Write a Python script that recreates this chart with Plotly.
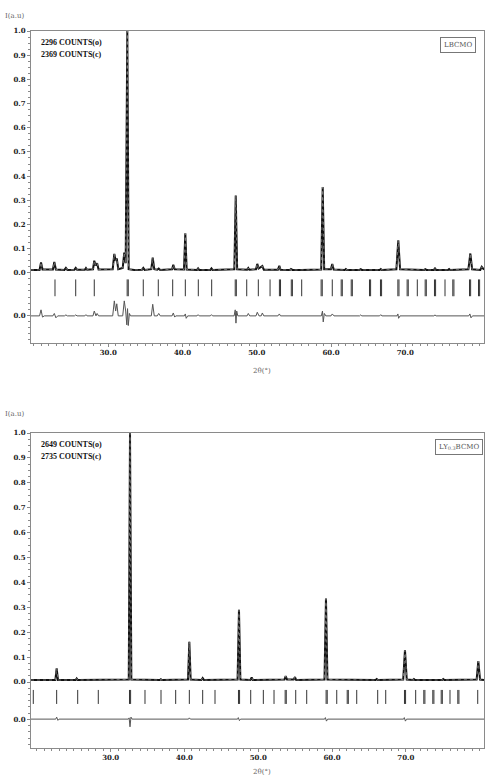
import plotly.graph_objects as go

# ---------------- data ----------------
# Top panel: LBCMO  (2theta in degrees, normalised intensity)
lb_two_theta = [19.6, 20.75, 20.95, 21.15, 22.55, 22.74, 22.95, 24.1, 24.3, 24.5, 25.45, 25.62, 25.8,
                26.85, 27.0, 27.15, 27.95, 28.12, 28.3, 28.5, 28.7, 30.6, 30.82, 31.0, 31.15, 31.35,
                31.95, 32.16, 32.35, 32.57, 32.75, 33.5, 34.55, 34.72, 34.9, 35.8, 35.99, 36.2,
                36.6, 36.8, 37.0, 38.6, 38.76, 38.95, 40.2, 40.38, 40.56, 41.95, 42.1, 42.25, 43.75,
                43.9, 44.05, 46.98, 47.17, 47.36, 48.7, 48.86, 49.0, 49.9, 50.07, 50.25, 50.75, 50.95,
                52.85, 53.04, 53.2, 54.45, 54.61, 54.8, 56.0, 58.68, 58.88, 59.08, 59.98, 60.17,
                60.36, 61.85, 62.0, 62.15, 63.85, 64.0, 64.15, 66.55, 66.7, 66.85, 68.8, 69.06, 69.3,
                72.55, 72.7, 72.85, 73.85, 74.0, 74.15, 75.75, 75.9, 76.05, 78.5, 78.76, 79.0,
                80.1, 80.29, 80.6]
lb_intensity = [0.012, 0.012, 0.043, 0.014, 0.014, 0.045, 0.014, 0.012, 0.02, 0.012, 0.013, 0.02, 0.013,
                0.013, 0.02, 0.013, 0.015, 0.05, 0.03, 0.04, 0.014, 0.015, 0.078, 0.05, 0.06, 0.015,
                0.02, 0.084, 0.04, 1.0, 0.015, 0.012, 0.013, 0.02, 0.012, 0.015, 0.063, 0.015,
                0.013, 0.018, 0.012, 0.015, 0.033, 0.015, 0.014, 0.164, 0.014, 0.012, 0.018, 0.012, 0.012,
                0.018, 0.012, 0.015, 0.32, 0.015, 0.013, 0.02, 0.013, 0.015, 0.037, 0.018, 0.028, 0.013,
                0.013, 0.029, 0.013, 0.012, 0.016, 0.012, 0.012, 0.014, 0.355, 0.015, 0.015, 0.037,
                0.014, 0.012, 0.016, 0.012, 0.012, 0.015, 0.012, 0.012, 0.016, 0.012, 0.015, 0.134, 0.015,
                0.012, 0.015, 0.012, 0.012, 0.018, 0.012, 0.012, 0.016, 0.012, 0.015, 0.08, 0.015,
                0.012, 0.025, 0.013]
lb_diff_theta = [19.6, 20.75, 20.95, 21.15, 21.4, 22.55, 22.74, 22.95, 23.2, 24.1, 24.3, 24.5, 25.45,
                 25.62, 25.8, 26.85, 27.0, 27.15, 27.95, 28.12, 28.35, 28.5, 28.7, 30.6, 30.82, 31.0,
                 31.15, 31.35, 31.95, 32.16, 32.35, 32.5, 32.6, 32.7, 32.85, 33.0, 35.8, 35.99, 36.2,
                 36.6, 36.8, 37.0, 38.6, 38.76, 38.95, 39.1, 40.25, 40.38, 40.5, 40.7, 41.95, 42.1,
                 42.25, 43.75, 43.9, 44.05, 46.95, 47.1, 47.2, 47.3, 47.45, 48.7, 48.86, 49.05, 49.9,
                 50.07, 50.3, 50.6, 50.75, 50.95, 52.85, 53.04, 53.2, 58.7, 58.85, 58.95, 59.1, 59.3,
                 60.0, 60.17, 60.4, 63.85, 64.0, 64.15, 66.55, 66.7, 66.85, 68.9, 69.0, 69.1, 69.3,
                 73.85, 74.0, 74.15, 78.55, 78.7, 78.85, 79.05, 80.6]
lb_diff = [0, 0, 0.025, -0.005, 0, 0, 0.01, -0.008, 0, 0, 0.004, 0, 0,
           0.004, 0, 0, 0.005, 0, 0, 0.02, 0, 0.01, 0, 0, 0.062, 0.02,
           0.05, 0, 0, 0.062, 0.02, -0.037, 0.03, -0.04, 0.01, 0, 0, 0.048, 0,
           0, 0.01, 0, 0, 0.012, -0.005, 0, 0, 0.008, -0.01, 0, 0, 0.005,
           0, 0, 0.005, 0, 0, 0.025, -0.03, 0.02, 0, 0, 0.01, 0, 0,
           0.015, 0, 0, 0.012, 0, 0, 0.008, 0, 0, 0.02, -0.025, 0.01, 0,
           0, 0.008, 0, 0, 0.004, 0, 0, 0.005, 0, 0, 0.008, -0.01, 0,
           0, 0.004, 0, 0, 0.008, -0.008, 0, 0]
lb_bragg = [22.83, 25.62, 28.12, 32.55, 32.7, 34.72, 36.74, 38.68, 40.38, 42.13, 43.93, 47.1, 47.25,
            48.65, 50.21, 51.79, 53.05, 53.2, 54.65, 54.8, 56.05, 58.67, 58.82, 60.17, 61.37, 61.52,
            62.72, 62.87, 65.18, 65.33, 66.66, 66.81, 69.0, 69.15, 70.25, 70.4, 71.62, 72.68, 72.83,
            73.93, 74.08, 75.35, 76.4, 76.55, 78.65, 78.8, 79.86, 80.01]

# Bottom panel: LY0.3BCMO
ly_two_theta = [19.2, 22.5, 22.68, 22.86, 25.25, 25.39, 25.55, 28.15, 28.32, 28.5, 32.45, 32.62, 32.8,
                36.65, 36.8, 36.95, 40.48, 40.66, 40.84, 42.3, 42.47, 42.65, 47.2, 47.39, 47.58,
                48.95, 49.11, 49.28, 53.55, 53.72, 53.9, 54.8, 54.98, 55.15, 58.98, 59.18, 59.38,
                65.9, 66.06, 66.22, 69.65, 69.89, 70.13, 70.95, 71.1, 71.25, 74.92, 75.08, 75.24,
                79.6, 79.83, 80.06, 80.6]
ly_intensity = [0.008, 0.008, 0.055, 0.008, 0.008, 0.014, 0.008, 0.008, 0.011, 0.008, 0.01, 1.0, 0.01,
                0.008, 0.011, 0.008, 0.01, 0.162, 0.01, 0.008, 0.016, 0.008, 0.01, 0.29, 0.01,
                0.008, 0.018, 0.008, 0.01, 0.024, 0.01, 0.01, 0.02, 0.008, 0.01, 0.335, 0.01,
                0.008, 0.012, 0.008, 0.01, 0.128, 0.01, 0.008, 0.012, 0.008, 0.008, 0.012, 0.008,
                0.01, 0.084, 0.01, 0.008]
ly_diff_theta = [19.2, 22.55, 22.68, 22.85, 23.0, 32.4, 32.5, 32.62, 32.75, 32.9, 40.55, 40.66, 40.8,
                 47.2, 47.3, 47.45, 47.6, 59.0, 59.1, 59.25, 59.4, 69.7, 69.8, 69.95, 70.1, 80.6]
ly_diff = [0, 0, 0.008, -0.005, 0, 0, 0.005, -0.031, 0.008, 0, 0, 0.005, 0,
           0, 0.006, -0.006, 0, 0, 0.006, -0.008, 0, 0, 0.006, -0.008, 0, 0]
ly_bragg = [19.51, 22.68, 25.53, 28.32, 32.55, 32.7, 34.65, 36.82, 38.81, 40.66, 42.47, 44.14,
            47.32, 47.47, 48.98, 50.69, 52.14, 53.65, 53.8, 55.08, 56.57, 59.2, 59.35, 60.64,
            62.06, 62.21, 63.35, 66.19, 67.28, 69.82, 69.97, 71.34, 72.44, 72.59, 73.66, 73.81,
            74.8, 74.95, 75.99, 77.05, 77.2, 79.75]

y_tick_values = [0.0, 0.1, 0.2, 0.3, 0.4, 0.5, 0.6, 0.7, 0.8, 0.9, 1.0]
y_tick_labels = ["0.0", "0.1", "0.2", "0.3", "0.4", "0.5", "0.6", "0.7", "0.8", "0.9", "1.0"]
x_tick_values = [30, 40, 50, 60, 70]
x_tick_labels = ["30.0", "40.0", "50.0", "60.0", "70.0"]

counts_top = ["2296 COUNTS(o)", "2369 COUNTS(c)"]
counts_bot = ["2649 COUNTS(o)", "2735 COUNTS(c)"]

# ---------------- placement constants ----------------
TOP_DIFF_BASE = -0.178
TOP_BRAGG_Y = -0.062
BOT_DIFF_BASE = -0.149
BOT_BRAGG_Y = -0.060

fig = go.Figure()

def add_panel(xa, ya, tt, inten, dtt, dval, base, bragg, bragg_y, tick_size):
    fig.add_trace(go.Scatter(x=tt, y=inten, mode="lines", xaxis=xa, yaxis=ya,
                             line=dict(color="#111", width=2), hoverinfo="skip"))
    fig.add_trace(go.Scatter(x=tt, y=inten, mode="lines", xaxis=xa, yaxis=ya,
                             line=dict(color="#888", width=0.8, dash="dot"), hoverinfo="skip"))
    fig.add_trace(go.Scatter(x=dtt, y=[v + base for v in dval], mode="lines", xaxis=xa, yaxis=ya,
                             line=dict(color="#555", width=1), hoverinfo="skip"))
    fig.add_trace(go.Scatter(x=bragg, y=[bragg_y] * len(bragg), mode="markers", xaxis=xa, yaxis=ya,
                             marker=dict(symbol="line-ns", size=tick_size,
                                         line=dict(color="#333", width=1)), hoverinfo="skip"))

add_panel("x", "y", lb_two_theta, lb_intensity, lb_diff_theta, lb_diff, TOP_DIFF_BASE,
          lb_bragg, TOP_BRAGG_Y, 12)
add_panel("x2", "y2", ly_two_theta, ly_intensity, ly_diff_theta, ly_diff, BOT_DIFF_BASE,
          ly_bragg, BOT_BRAGG_Y, 10)

tick_font = dict(family="DejaVu Serif", size=7, color="#222", weight="bold")
axis_common = dict(showline=True, mirror=True, linecolor="#8a8a8a", linewidth=1,
                   showgrid=False, zeroline=False, ticks="outside", ticklen=3,
                   tickcolor="#8a8a8a", tickfont=tick_font, automargin=False)

xa_common = dict(axis_common, tickvals=x_tick_values, ticktext=x_tick_labels,
                 minor=dict(dtick=1, tick0=0, ticklen=2, ticks="outside", tickcolor="#8a8a8a"))

fig.update_layout(
    width=485, height=777,
    margin=dict(l=31, r=1, t=31, b=29),
    paper_bgcolor="white", plot_bgcolor="white",
    showlegend=False,
    xaxis=dict(xa_common, domain=[0, 1], range=[19.6, 80.6], anchor="y"),
    yaxis=dict(axis_common, domain=[0.5649, 1], range=[-0.29, 1.0], anchor="x",
               tickvals=[TOP_DIFF_BASE] + y_tick_values, ticktext=["0.0"] + y_tick_labels,
               minor=dict(dtick=0.025, tick0=0, ticklen=2, ticks="outside", tickcolor="#8a8a8a")),
    xaxis2=dict(xa_common, domain=[0, 1], range=[19.2, 80.6], anchor="y2"),
    yaxis2=dict(axis_common, domain=[0, 0.4393], range=[-0.265, 1.0], anchor="x2",
                tickvals=[BOT_DIFF_BASE] + y_tick_values, ticktext=["0.0"] + y_tick_labels,
                minor=dict(dtick=0.025, tick0=0, ticklen=2, ticks="outside", tickcolor="#8a8a8a")),
)

label_font = dict(family="DejaVu Serif", size=7, color="#666")
count_font = dict(family="Liberation Serif", size=8, color="#111", weight="bold")
box_font = dict(family="DejaVu Serif", size=7, color="#555")

annotations = [
    dict(text="I(a.u)", xref="paper", yref="paper", x=-0.062, y=1.0, yshift=15,
         xanchor="left", yanchor="middle", showarrow=False, font=label_font),
    dict(text="I(a.u)", xref="paper", yref="paper", x=-0.062, y=0.4393, yshift=19,
         xanchor="left", yanchor="middle", showarrow=False, font=label_font),
    dict(text="2θ(°)", xref="x domain", yref="paper", x=0.51, y=0.5649, yshift=-28,
         xanchor="center", yanchor="middle", showarrow=False, font=label_font),
    dict(text="2θ(°)", xref="x2 domain", yref="paper", x=0.51, y=0, yshift=-24,
         xanchor="center", yanchor="middle", showarrow=False, font=label_font),
    dict(text=counts_top[0], xref="x domain", yref="y domain", x=0.018, y=0.985,
         xanchor="left", yanchor="top", showarrow=False, font=count_font),
    dict(text=counts_top[1], xref="x domain", yref="y domain", x=0.018, y=0.945,
         xanchor="left", yanchor="top", showarrow=False, font=count_font),
    dict(text=counts_bot[0], xref="x2 domain", yref="y2 domain", x=0.018, y=0.985,
         xanchor="left", yanchor="top", showarrow=False, font=count_font),
    dict(text=counts_bot[1], xref="x2 domain", yref="y2 domain", x=0.018, y=0.945,
         xanchor="left", yanchor="top", showarrow=False, font=count_font),
    dict(text="LBCMO", xref="x domain", yref="y domain", x=0.982, y=0.982,
         xanchor="right", yanchor="top", showarrow=False, font=box_font,
         bordercolor="#777", borderwidth=1, borderpad=3, bgcolor="white"),
    dict(text="LY<sub>0.3</sub>BCMO", xref="x2 domain", yref="y2 domain", x=0.998, y=0.982,
         xanchor="right", yanchor="top", showarrow=False, font=box_font,
         bordercolor="#777", borderwidth=1, borderpad=3, bgcolor="white"),
]
fig.update_layout(annotations=annotations)

fig.write_html("out.html", config={"displayModeBar": False},
               post_script="document.body.style.margin='0';")
